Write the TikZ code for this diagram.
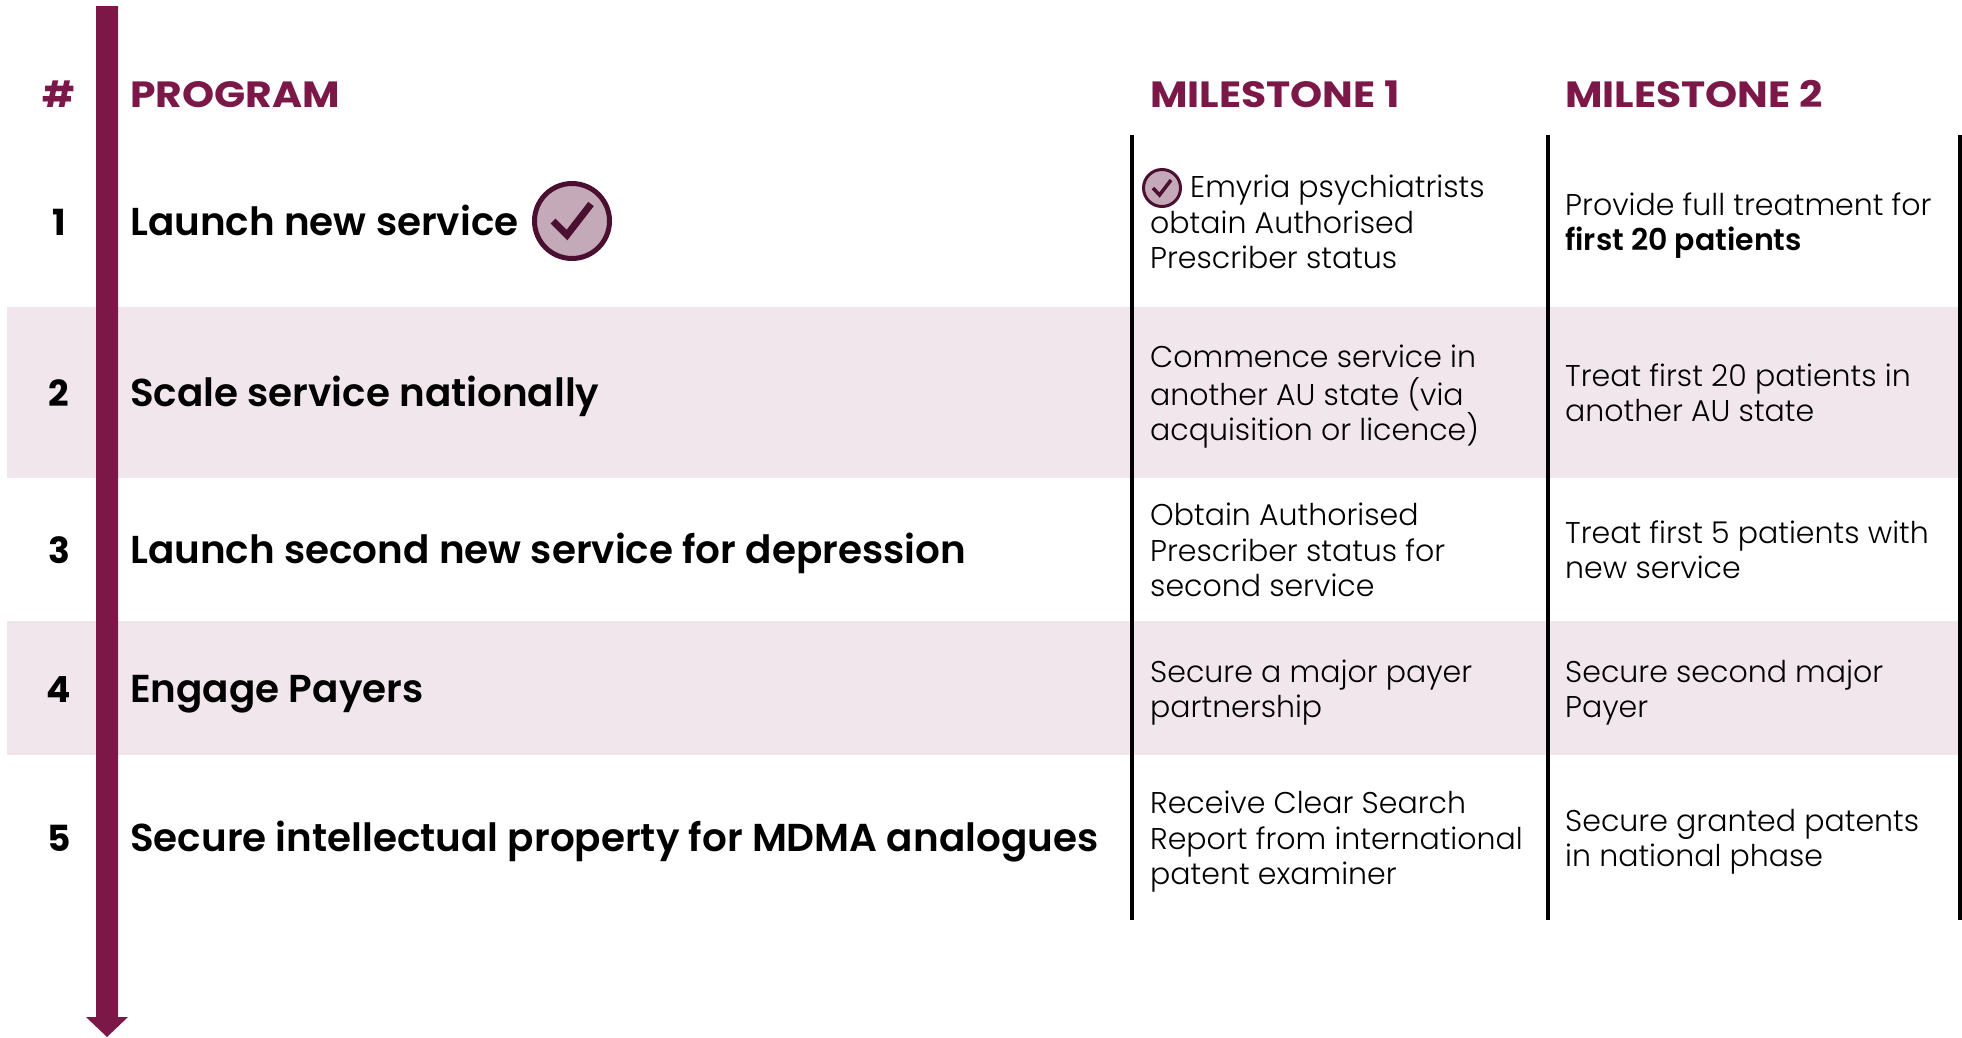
\documentclass[tikz,border=0pt]{standalone}
\usepackage{fontspec}
\setmainfont{Poppins}
\newfontfamily\lightf{Poppins Light}[BoldFont={Poppins SemiBold}]
\newfontfamily\semif{Poppins SemiBold}
\newfontfamily\hdrf{Poppins Bold}[FakeStretch=1.12]
\newcommand\mstr{\rule[-9pt]{0pt}{32pt}}
\definecolor{maroon}{HTML}{7B1848}
\definecolor{bandpink}{HTML}{F1E6EC}
\definecolor{chkfill}{HTML}{C4A9B8}
\definecolor{chkdark}{HTML}{4B1031}
\tikzset{
  hdr/.style={anchor=base west, inner sep=0pt, text=maroon, font=\hdrf\fontsize{36.5}{40}\selectfont},
  num/.style={anchor=base, inner sep=0pt, font=\fontsize{36}{40}\selectfont\bfseries},
  prog/.style={anchor=base west, inner sep=0pt, font=\semif\fontsize{38.9}{44}\selectfont},
  mst/.style={anchor=west, inner sep=0pt, align=left, font=\lightf\fontsize{30}{35.8}\selectfont},
  band/.style={fill=bandpink, draw=none},
  colline/.style={line width=4pt, black},
  chk/.style={circle, draw=chkdark, fill=chkfill, inner sep=0pt},
}
\begin{document}
\begin{tikzpicture}[x=1pt, y=-1pt]
\useasboundingbox (0,0) rectangle (1962,1037);
% bands
\fill[band] (7,307) rectangle (1962,478);
\fill[band] (7,621) rectangle (1962,755);
% timeline arrow
\fill[maroon] (96,6) -- (118,6) -- (118,1017) -- (128,1017) -- (107,1037) -- (86,1017) -- (96,1017) -- cycle;
% column lines
\draw[colline] (1132,135) -- (1132,920);
\draw[colline] (1548,135) -- (1548,920);
\draw[colline] (1960,135) -- (1960,920);
% headers
\node[num, text=maroon] (hnum) at (59,107) {\#};
\node[hdr] (hprog) at (130,107) {PROGRAM};
\node[hdr] (hm1) at (1150,107) {MILESTONE 1};
\node[hdr] (hm2) at (1565,107) {MILESTONE 2};
% row numbers
\node[num] (n1) at (59,235) {1};
\node[num] (n2) at (59,406) {2};
\node[num] (n3) at (59,563) {3};
\node[num] (n4) at (59,702) {4};
\node[num] (n5) at (59,851) {5};
% programs
\node[prog] (p1) at (130,235) {Launch new service};
\node[prog] (p2) at (130,406) {Scale service nationally};
\node[prog] (p3) at (130,563) {Launch second new service for depression};
\node[prog] (p4) at (130,702) {Engage Payers};
\node[prog] (p5) at (130,851) {Secure intellectual property for MDMA analogues};
% big check
\node[chk, minimum size=75pt, line width=5pt] (bigchk) at (572,221) {};
\draw[chkdark, line width=7pt] ([shift={(-19,0)}]bigchk.center) -- ([shift={(-5,14)}]bigchk.center) -- ([shift={(19,-17)}]bigchk.center);
% milestone 1
\node[mst] (m11) at (1150,226) {\mstr\hspace*{40pt}Emyria psychiatrists\\obtain Authorised\\\mstr Prescriber status};
\node[chk, minimum size=37pt, line width=3pt] (smallchk) at (1162,188) {};
\draw[chkdark, line width=3.5pt] ([shift={(-9,0)}]smallchk.center) -- ([shift={(-2.5,7)}]smallchk.center) -- ([shift={(9,-8)}]smallchk.center);
\node[mst] (m12) at (1150,397) {\mstr Commence service in\\another AU state (via\\\mstr acquisition or licence)};
\node[mst] (m13) at (1150,554) {\mstr Obtain Authorised\\Prescriber status for\\\mstr second service};
\node[mst] (m14) at (1150,693) {\mstr Secure a major payer\\\mstr partnership};
\node[mst] (m15) at (1150,842) {\mstr Receive Clear Search\\Report from international\\\mstr patent examiner};
% milestone 2
\node[mst] (m21) at (1565,226) {\mstr Provide full treatment for\\\mstr\textbf{first 20 patients}};
\node[mst] (m22) at (1565,397) {\mstr Treat first 20 patients in\\\mstr another AU state};
\node[mst] (m23) at (1565,554) {\mstr Treat first 5 patients with\\\mstr new service};
\node[mst] (m24) at (1565,693) {\mstr Secure second major\\\mstr Payer};
\node[mst] (m25) at (1565,842) {\mstr Secure granted patents\\\mstr in national phase};
\end{tikzpicture}
\end{document}
